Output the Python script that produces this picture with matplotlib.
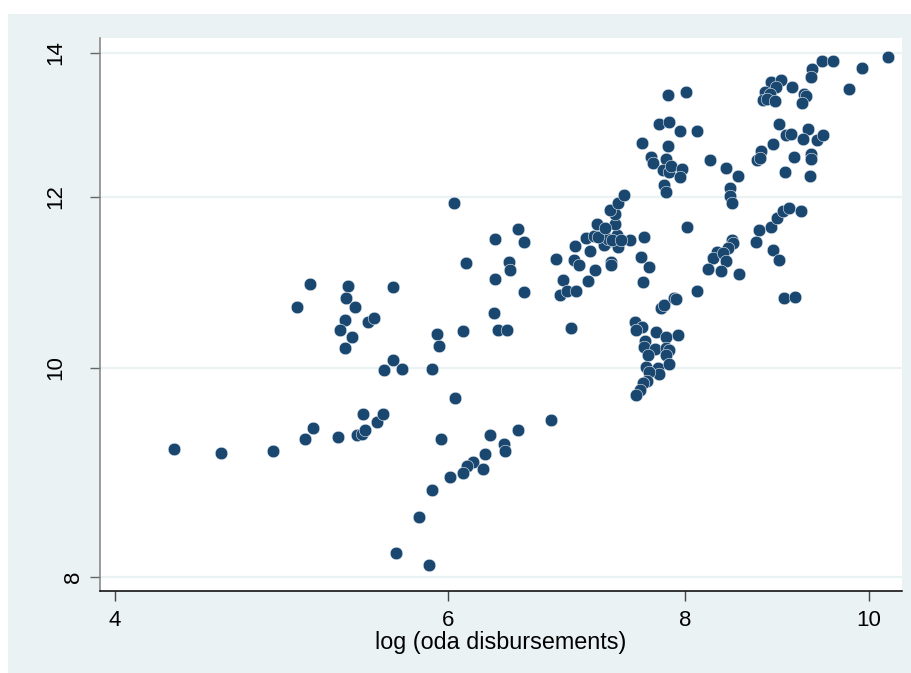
import matplotlib
matplotlib.use("Agg")
import matplotlib.pyplot as plt
from matplotlib.patches import Rectangle
from matplotlib.ticker import FixedLocator, FixedFormatter, NullLocator
from matplotlib.transforms import blended_transform_factory

plt.rcParams['font.family'] = ['Liberation Sans', 'DejaVu Sans']

# log (oda disbursements)
x_vals = [
    4.30, 4.55, 4.85, 5.04, 5.09, 5.25, 5.37, 5.40, 5.42, 5.41, 5.50, 5.54, 5.95, 6.01, 5.88, 5.79, 5.63, 5.86,
    5.07, 4.99, 5.31, 5.30, 5.36, 5.29, 5.44, 5.48, 5.26, 5.34, 5.29, 5.61, 5.61, 5.55, 5.67,
    6.04, 6.35, 6.53, 6.58, 6.13, 6.46, 6.47, 6.35, 6.58, 6.34, 6.37, 6.44, 6.11, 5.92, 5.93, 5.88, 6.05, 6.80,
    6.53, 6.31, 6.42, 6.43, 6.27, 6.18, 6.14, 6.26, 6.11, 6.96,
    6.84, 7.00, 6.99, 7.03, 6.90, 6.87, 6.93, 7.01, 7.11, 7.17, 7.13, 7.09, 7.16, 7.19, 7.25, 7.27, 7.25, 7.31,
    7.31, 7.36, 7.35, 7.35, 7.30, 7.37, 7.43, 7.37, 7.48, 7.61, 7.58, 7.66, 7.60, 7.28, 7.32, 7.20, 7.40, 7.26,
    7.53, 7.59, 7.54, 7.72, 7.82, 7.93, 7.62, 7.61, 7.71, 7.82, 7.84, 7.65, 7.82, 7.63, 7.74, 7.84, 7.75, 7.66,
    7.64, 7.60, 7.57, 7.54, 7.77, 7.80, 7.89, 7.91, 8.12, 8.02,
    7.83, 8.01, 7.75, 7.84, 7.95, 8.12, 7.59, 7.83, 7.67, 7.69, 7.82, 7.79, 7.84, 7.86, 7.97, 7.95, 7.80, 7.82,
    8.24, 8.41, 8.53, 8.45, 8.45, 8.47,
    8.75, 8.88, 8.94, 9.01, 9.07, 9.21, 8.72, 8.47, 8.48, 8.43, 8.32, 8.27, 8.38, 8.41, 8.22, 8.36, 8.54, 8.90,
    8.97, 9.02, 9.14,
    9.45, 9.57, 9.33, 9.32, 10.24, 9.92, 9.76, 8.88, 8.99, 8.93, 8.81, 8.87, 8.79, 8.84, 8.92, 9.11, 9.24, 9.26,
    9.22, 8.97, 9.04, 9.10, 9.29, 9.23, 8.90, 8.77, 8.73, 8.76, 9.13, 9.32, 9.32, 9.39, 9.46, 9.03, 9.31,
]
y_vals = [
    9.17, 9.13, 9.15, 9.27, 9.38, 9.29, 9.31, 9.32, 9.36, 9.52, 9.44, 9.52, 9.27, 8.90, 8.78, 8.53, 8.21, 8.10,
    10.94, 10.67, 10.91, 10.77, 10.67, 10.53, 10.50, 10.55, 10.41, 10.34, 10.22, 10.90, 10.08, 9.98, 9.99,
    11.93, 11.48, 11.60, 11.44, 11.19, 11.20, 11.10, 10.99, 10.84, 10.60, 10.41, 10.41, 10.40, 10.37, 10.24, 9.99, 9.68, 9.46,
    9.36, 9.31, 9.22, 9.15, 9.12, 9.04, 9.01, 8.98, 8.94, 10.44,
    11.23, 11.39, 11.22, 11.16, 10.98, 10.81, 10.86, 10.86, 10.97, 11.10, 11.33, 11.49, 11.51, 11.66, 11.53, 11.42, 11.40, 11.20,
    11.16, 11.52, 11.66, 11.78, 11.84, 11.92, 12.03, 11.38, 11.46, 11.50, 11.26, 11.14, 10.96, 11.48, 11.46, 11.50, 11.46, 11.61,
    10.50, 10.45, 10.41, 10.39, 10.34, 10.36, 10.29, 10.23, 10.20, 10.22, 10.19, 10.14, 10.14, 10.01, 10.00, 10.04, 9.93, 9.96,
    9.86, 9.84, 9.77, 9.72, 10.66, 10.70, 10.78, 10.76, 10.85, 11.62,
    13.38, 13.43, 12.97, 13.00, 12.88, 12.87, 12.71, 12.67, 12.52, 12.44, 12.50, 12.35, 12.33, 12.40, 12.37, 12.26, 12.15, 12.06,
    12.48, 12.38, 12.27, 12.12, 12.01, 11.92,
    11.58, 11.62, 11.73, 11.82, 11.86, 11.82, 11.44, 11.46, 11.42, 11.37, 11.32, 11.25, 11.30, 11.21, 11.11, 11.09, 11.06, 11.34,
    11.22, 10.78, 10.79,
    13.87, 13.87, 13.75, 13.64, 13.93, 13.77, 13.46, 13.57, 13.60, 13.49, 13.43, 13.40, 13.31, 13.32, 13.30, 13.49, 13.40, 13.37,
    13.26, 12.97, 12.82, 12.83, 12.91, 12.77, 12.70, 12.60, 12.48, 12.51, 12.53, 12.56, 12.50, 12.76, 12.82, 12.33, 12.27,
]

x_ticks = [4, 6, 8, 10]
y_ticks = [8, 10, 12, 14]
y_tick_labels = ["8", "10", "12", "14"]
x_label = "log (oda disbursements)"

BG = "#EAF2F3"
NAVY = "#1A476F"

W, H = 912, 673
fig = plt.figure(figsize=(W / 100, H / 100), dpi=100, facecolor="white")
fig.patches.append(Rectangle((8 / W, 0), 1 - 8 / W, 1 - 14 / H, transform=fig.transFigure,
                             facecolor=BG, edgecolor="none", zorder=-10))

ax = fig.add_axes([100 / W, 1 - 590.7 / H, (902 - 100) / W, (590.7 - 38) / H])
ax.set_facecolor("white")
ax.set_xscale("log")
ax.set_yscale("log")
ax.set_xlim(3.93, 10.41)
ax.set_ylim(7.884, 14.22)

ax.scatter(x_vals, y_vals, s=82, color=NAVY, edgecolors="#e8eef3", linewidths=0.4, zorder=3)

ax.xaxis.set_major_locator(FixedLocator(x_ticks))
ax.xaxis.set_major_formatter(FixedFormatter([str(t) for t in x_ticks]))
ax.yaxis.set_major_locator(FixedLocator(y_ticks))
ax.xaxis.set_minor_locator(NullLocator())
ax.yaxis.set_minor_locator(NullLocator())

ax.grid(axis="y", color=BG, linewidth=1.6, zorder=0)
ax.set_axisbelow(True)

for s in ["top", "right"]:
    ax.spines[s].set_visible(False)
ax.spines["left"].set_color("#808080")
ax.spines["left"].set_linewidth(1.1)
ax.spines["bottom"].set_color("black")
ax.spines["bottom"].set_linewidth(1.1)

ax.tick_params(axis="x", length=7, width=1, color="#444444", labelsize=16, pad=7, labelcolor="black")
ax.tick_params(axis="y", length=7, width=1, color="#666666", labelleft=False)

# rotated y tick labels, placed like the reference (single digit sits closer to the axis)
tr = blended_transform_factory(fig.transFigure, ax.transData)
for val, lab in zip(y_ticks, y_tick_labels):
    xc = (56 if len(lab) > 1 else 74) / W
    ax.text(xc, val, lab, transform=tr, rotation=90, ha="center", va="center",
            fontsize=16, color="black", clip_on=False)

ax.set_xlabel(x_label, fontsize=16.8, labelpad=0, color="black")

fig.savefig("out.png", dpi=100, facecolor=fig.get_facecolor())
